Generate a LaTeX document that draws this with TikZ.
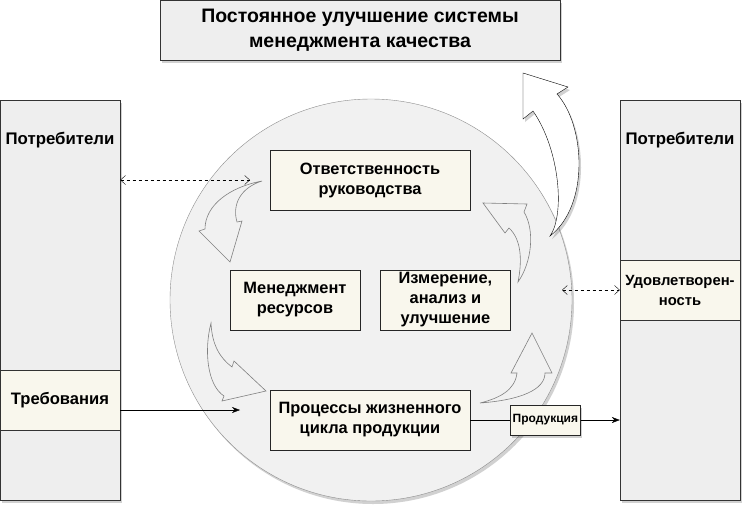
\documentclass[tikz,border=0pt]{standalone}
\usepackage{fontspec}
\setmainfont{Liberation Sans}
\usetikzlibrary{arrows.meta, positioning, shadows}
\definecolor{panelgray}{HTML}{EEEEEE}
\definecolor{ringgray}{HTML}{F1F1F1}
\definecolor{cream}{HTML}{F9F7ED}
\tikzset{
	line width = .75pt,
	>={Straight Barb[length=5pt, width=9pt]},
	lifted/.style={
		drop shadow={shadow xshift=2pt, shadow yshift=-3pt, fill=black, opacity=.18}
	},
	banner/.style={
		draw=black!80,
		fill=panelgray,
		lifted,
		minimum width=400pt,
		minimum height=60pt,
		align=center,
		font=\fontsize{19.5}{25}\selectfont\bfseries
	},
	column/.style={
		draw=black!80,
		fill=panelgray,
		lifted,
		minimum width=120pt,
		minimum height=400pt,
		inner sep=0pt
	},
	colhead/.style={
		font=\fontsize{16.8}{20}\selectfont\bfseries
	},
	section/.style={
		draw=black!80,
		fill=cream,
		minimum width=120pt,
		minimum height=60pt,
		inner sep=0pt,
		align=center,
		font=\fontsize{16.6}{20}\selectfont\bfseries
	},
	ring/.style={
		circle,
		draw=black!45,
		fill=ringgray,
		lifted,
		minimum size=402pt,
		inner sep=0pt
	},
	stage/.style={
		draw=black!85,
		fill=cream,
		minimum width=130pt,
		minimum height=60pt,
		inner sep=0pt,
		align=center,
		font=\fontsize{16.4}{20}\selectfont\bfseries
	},
	output/.style={
		draw=black!85,
		fill=cream,
		lifted,
		minimum width=70pt,
		minimum height=30pt,
		inner sep=0pt,
		font=\fontsize{12}{14}\selectfont\bfseries
	},
	loop/.style={
		draw=black!50,
		line width=.6pt
	},
	boost/.style={
		draw=black,
		fill=white,
		lifted
	},
	link/.style={
		<->,
		dashed
	},
	feed/.style={
		-{Stealth[length=8pt, width=6pt]}
	}
}

\begin{document}
\begin{tikzpicture}[x=1pt, y=-1pt]
	\useasboundingbox (0,0) rectangle (752,512);

	\node[banner] (goal) at (360,30) {Постоянное улучшение системы\\менеджмента качества};

	\node[ring] (qms) at (371,300) {};

	\node[column] (cons-l) at (60,300) {};
	\node[column] (cons-r) at (680,300) {};
	\node[colhead] (cons-l-head) at (60,140) {Потребители};
	\node[colhead] (cons-r-head) at (680,140) {Потребители};
	\node[section] (req) at (60,400) {Требования};
	\node[section, font=\fontsize{14.8}{20}\selectfont\bfseries] (sat) at (680,290) {Удовлетворен-\\ность};

	\node[stage, minimum width=200pt] (lead) at (370,180) {Ответственность\\руководства};
	\node[stage] (res) at (295,300) {Менеджмент\\ресурсов};
	\node[stage, right=20pt of res] (meas) {Измерение,\\анализ и\\улучшение};
	\node[stage, minimum width=200pt] (proc) at (370,420) {Процессы жизненного\\цикла продукции};
	\node[output, right=40pt of proc] (prod) {Продукция};

	\draw[loop] (262,181) .. controls (230,187) and (205,205) .. (205,229) -- (199,231) -- (230,262)
		-- (242,221) -- (237,222) .. controls (232,205) and (240,188) .. cycle;
	\draw[loop] (211,323) .. controls (204,350) and (207,385) .. (224,396) -- (222,401) -- (266,391)
		-- (234,361) -- (232,367) .. controls (220,358) and (212,345) .. cycle;
	\draw[loop] (480,403) .. controls (520,400) and (545,390) .. (545,373) -- (552,373) -- (532,333)
		-- (511,373) -- (517,373) .. controls (515,390) and (500,398) .. cycle;
	\draw[loop] (518,282) .. controls (532,262) and (535,230) .. (524,212) -- (527,204) -- (483,203)
		-- (505,233) -- (509,228) .. controls (522,240) and (522,262) .. cycle;
	\draw[boost] (550,236) .. controls (565,215) and (560,150) .. (533,111) -- (523,119) -- (523,73)
		-- (568,87) -- (557,94) .. controls (585,125) and (590,205) .. cycle;

	\coordinate (lead-in) at (250,180);
	\coordinate (proc-in) at (240,410);
	\coordinate (qms-out) at (562,290);

	\draw[link] (cons-l.east |- lead-in) -- (lead-in);
	\draw[link] (qms-out) -- (sat.west);
	\draw[feed] (req.east |- proc-in) -- (proc-in);
	\draw (proc.east) -- (prod.west);
	\draw[feed] (prod.east) -- (prod.east -| cons-r.west);
\end{tikzpicture}
\end{document}
